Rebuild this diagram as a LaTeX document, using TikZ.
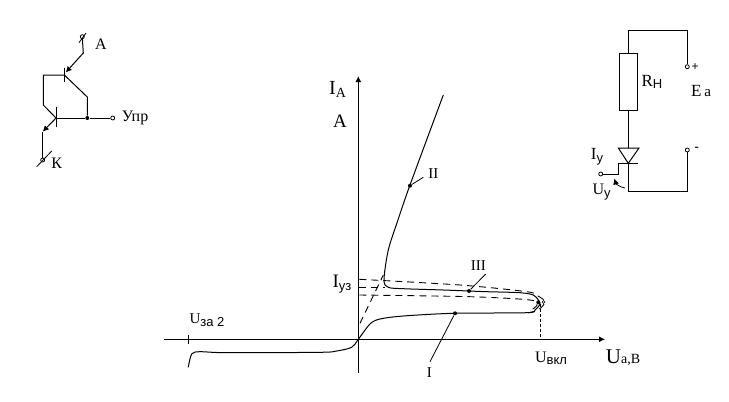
\documentclass[tikz,border=0pt]{standalone}
\usepackage{fontspec}
\setmainfont{Liberation Serif}
\setsansfont{Liberation Sans}
\usetikzlibrary{arrows.meta}
\newcommand{\fs}[1]{\fontsize{#1}{#1}\selectfont}
\newcommand{\low}[1]{\raisebox{-2.5pt}{\sffamily\fs{13}#1}}
\begin{document}
\begin{tikzpicture}[x=1pt,y=-1pt,line width=1pt,
    lbl/.style={inner sep=0pt,font=\fs{16}},
    pin/.style={circle,draw,fill=white,inner sep=0pt,minimum size=4pt,line width=0.8pt},
    dot/.style={circle,fill=black,inner sep=0pt,minimum size=4pt},
    tip/.style={-{Latex[length=6pt,width=6pt]}},
    dsh/.style={dashed,dash pattern=on 7pt off 5pt,line width=0.9pt}]
    \useasboundingbox (0,0) rectangle (729,402);
    %%%%% THE TRANSISTOR PAIR
    \begin{scope}
      \node[pin] (PA) at (82.3,36.7) {};
      \node[pin] (PK) at (42.7,160) {};
      \node[pin] (PG) at (112.7,118) {};
      \node[dot] (JG) at (87.3,118) {};
      \coordinate (A1) at (83.3,53);
      \coordinate (B1) at (64.3,75);
      \coordinate (B1t) at (64.3,67.7);
      \coordinate (B1b) at (64.3,81.7);
      \coordinate (C1) at (87.3,97);
      \coordinate (L1) at (43.3,75);
      \coordinate (L2) at (43.3,105);
      \coordinate (B2) at (56,118);
      \coordinate (B2t) at (56,106.7);
      \coordinate (B2b) at (56,126.7);
      \coordinate (K1) at (42.7,131.7);
      \coordinate (PAa) at (79,42.7);
      \coordinate (PAb) at (86,33);
      \coordinate (PKa) at (36.7,166.7);
      \coordinate (PKb) at (51.7,151);
      \draw[tip] (PA) -- (A1) -- (65.7,72.5);
      \draw (B1t) -- (B1b);
      \draw (B1) -- (C1) -- (JG);
      \draw (B1) -- (L1) -- (L2) -- (B2);
      \draw (B2t) -- (B2b);
      \draw (B2) -- (JG) -- (PG);
      \draw[tip] (B2) -- (K1);
      \draw (K1) -- (PK);
      \draw[line width=0.8pt] (PAa) -- (PAb);
      \draw[line width=0.8pt] (PKa) -- (PKb);
      \node[lbl] (LA) at (101,44) {А};
      \node[lbl] (LK) at (56.7,163) {К};
      \node[lbl,font=\fs{16}] (LG) at (135,118) {Упр};
    \end{scope}
    %%%%% THE CIRCUIT
    \begin{scope}
      \node[draw,minimum width=18pt,minimum height=57pt,inner sep=0pt] (RH) at (628.3,81.5) {};
      \node[pin] (PP) at (687.3,66.7) {};
      \node[pin] (PM) at (687.3,150) {};
      \node[pin] (PU) at (600.7,174) {};
      \coordinate (T1) at (628.3,30);
      \coordinate (T2) at (687.3,30);
      \coordinate (D1) at (628.3,148);
      \coordinate (D2) at (628.3,163.3);
      \coordinate (B3) at (628.3,191.7);
      \coordinate (B4) at (687.3,191.7);
      \coordinate (G1) at (618.3,163.3);
      \coordinate (G2) at (618.3,174);
      \coordinate (G3) at (638.3,163.3);
      \draw (RH.north) -- (T1) -- (T2) -- (PP);
      \draw (RH.south) -- (D1);
      \draw (618.3,148) -- (639,148) -- (D2) -- cycle;
      \draw (G1) -- (G3);
      \draw (PU) -- (G2) -- (G1);
      \draw (D2) -- (B3) -- (B4) -- (PM);
      \draw[tip,line width=0.8pt] (625,188) .. controls (620,187) and (616,184) .. (614.3,178.5);
      \node[lbl,font=\fs{17}] (LR) at (652,82) {R\low{Н}};
      \node[lbl,font=\fs{17}] (LE) at (701,90.7) {E\,\fs{15}а};
      \node[lbl,font=\fs{17}] (LI) at (597,157) {I\low{у}};
      \node[lbl,font=\fs{16}] (LU) at (601.7,192) {U\low{у}};
      \node[lbl,font=\sffamily\fs{12}] (LP) at (695,67) {+};
      \node[lbl,font=\sffamily\fs{14}] (LM) at (696.7,149.5) {-};
    \end{scope}
    %%%%% THE AXES
    \coordinate (XS) at (164,339.3);
    \coordinate (XE) at (605,339.3);
    \coordinate (YS) at (358.3,372.7);
    \coordinate (YE) at (358.3,76);
    \draw[tip] (XS) -- (XE);
    \draw[tip] (YS) -- (YE);
    \draw (188.3,335) -- (188.3,344);
    \node[lbl] (IA) at (337.5,89) {\fs{20}I\raisebox{-3pt}{\fs{14}А}};
    \node[lbl,font=\fs{19}] (AA) at (340,121.7) {А};
    \node[lbl] (IY) at (342,284) {\fs{19}I\low{уз}};
    \node[lbl] (UV) at (551,358.5) {\fs{16}U\low{вкл}};
    \node[lbl] (UA) at (623,357.5) {\fs{21}U\fs{14}а,В};
    \node[lbl] (UZ) at (207,320) {\fs{15}U\low{за 2}};
    %%%%% THE CURVES
    \draw plot[smooth,tension=0.5] coordinates {(188.3,367.3) (191.7,354) (200,351.7) (226.7,352.7) (320,352.3) (336.7,351) (351.7,347.3) (358.3,339.3) (370,324) (380,319) (403.3,316) (453.3,313.3) (526.7,312.7) (535,310) (540,304) (538.3,300) (533.3,295) (520,292.7) (486.7,291.7) (469,291) (443.3,290) (403.3,288.7) (388.3,287.3) (384,280) (388.3,250) (398.3,219) (410,185) (443.3,95)};
    \draw[dsh] plot[smooth,tension=0.5] coordinates {(359.3,279.3) (460,285) (526.7,291.7) (538,296) (545,302) (538,310) (525,313.5)};
    \draw[dsh] plot[smooth,tension=0.5] coordinates {(359.3,295) (470,296.7) (530,300) (537,305) (530,311)};
    \draw[dsh] (359.3,287.3) -- (385,287.3);
    \draw[dsh] (360,323.3) -- (383.3,275);
    \draw[dash pattern=on 3pt off 2pt,line width=0.8pt] (540,304) -- (540,339.3);
    %%%%% THE MARKS
    \node[circle,draw,inner sep=0pt,minimum size=3pt,line width=0.6pt] (TIP) at (543.5,302) {};
    \node[dot] (DV) at (538.3,302.3) {};
    \node[dot] (D3) at (469,291) {};
    \node[dot] (D1c) at (455,313.3) {};
    \node[dot] (D2c) at (410,185.7) {};
    \node[lbl,font=\fs{15}] (N3) at (478.3,265.7) {III};
    \node[lbl,font=\fs{15}] (N1) at (429.3,372.7) {I};
    \node[lbl,font=\fs{15}] (N2) at (433.3,173.3) {II};
    \draw[line width=0.8pt] (485.7,274) -- (D3);
    \draw[line width=0.8pt] (430,361.7) -- (D1c);
    \draw[line width=0.8pt] (423.3,177.3) -- (D2c);
  \end{tikzpicture}
\end{document}
